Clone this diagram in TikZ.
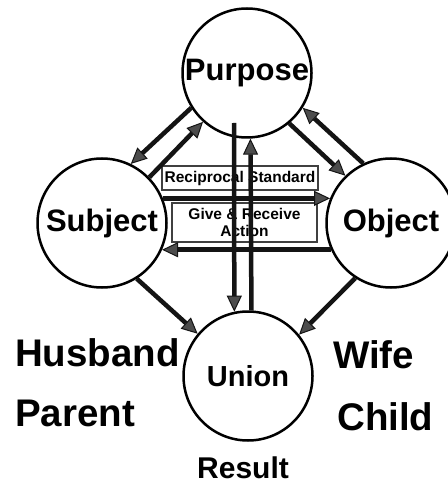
\documentclass[tikz,border=0pt]{standalone}
\usepackage{fontspec}
\setmainfont{Liberation Sans}
\usepackage{tikz}
\usetikzlibrary{calc,arrows.meta}

\begin{document}
\begin{tikzpicture}[x=1pt,y=-1pt,
    circ/.style={draw,circle,line width=2.5pt,minimum size=129pt,inner sep=0pt,font=\bfseries\fontsize{31}{31}\selectfont},
    arr/.style={draw=black!92,line width=4.5pt,-{Triangle[length=16pt,width=15pt,line width=1pt,fill=black!70]}},
    box/.style={draw=black!75,line width=1.2pt,fill=white,inner sep=0pt,align=center,font=\bfseries\fontsize{15.5}{17}\selectfont},
    lbl/.style={font=\bfseries\fontsize{38.5}{38.5}\selectfont,inner sep=0pt}]
            \useasboundingbox (0,0) rectangle (447,486);
            \node (Pur) at (247,73) [circ] {\makebox[0pt]{Purpose}};
            \node (Sub) at (102,223) [circ] {\makebox[0pt]{Subject}};
            \node (Obj) at (391,223) [circ] {\makebox[0pt]{Object}};
            \node (Uni) at (248,376) [circ,font=\bfseries\fontsize{29}{29}\selectfont] {\makebox[0pt]{Union}};
            \node (RS) at (240,178) [box,minimum width=156pt,minimum height=24pt] {Reciprocal Standard};
            \node (GR) at (244.5,222.5) [box,minimum width=145pt,minimum height=39pt] {Give \& Receive\\Action};
            \draw [arr] (Sub.22) -- (Obj.158);
            \draw [arr] (Obj.204) -- (Sub.336);
            \draw [arr] (Sub.44) -- (Pur.228);
            \draw [arr] (Pur.212) -- (Sub.64);
            \draw [arr] (Pur.310) -- (Obj.134);
            \draw [arr] (Obj.115) -- (Pur.328);
            \draw [arr] (Sub.302) -- (Uni.140);
            \draw [arr] (Obj.237) -- (Uni.39);
            \draw [arr] ($(Pur.center)+(-13,50)$) -- (Uni.102);
            \draw [arr] (Uni.87) -- (Pur.273);
            \node (Hus) at (15,353) [lbl,anchor=west] {Husband};
            \node (Par) at (15,413) [lbl,anchor=west] {Parent};
            \node (Wif) at (333,355) [lbl,anchor=west] {Wife};
            \node (Chi) at (337,417) [lbl,anchor=west] {Child};
            \node (Res) at (243,468) [lbl,font=\bfseries\fontsize{30}{30}\selectfont] {Result};
        \end{tikzpicture}
\end{document}
